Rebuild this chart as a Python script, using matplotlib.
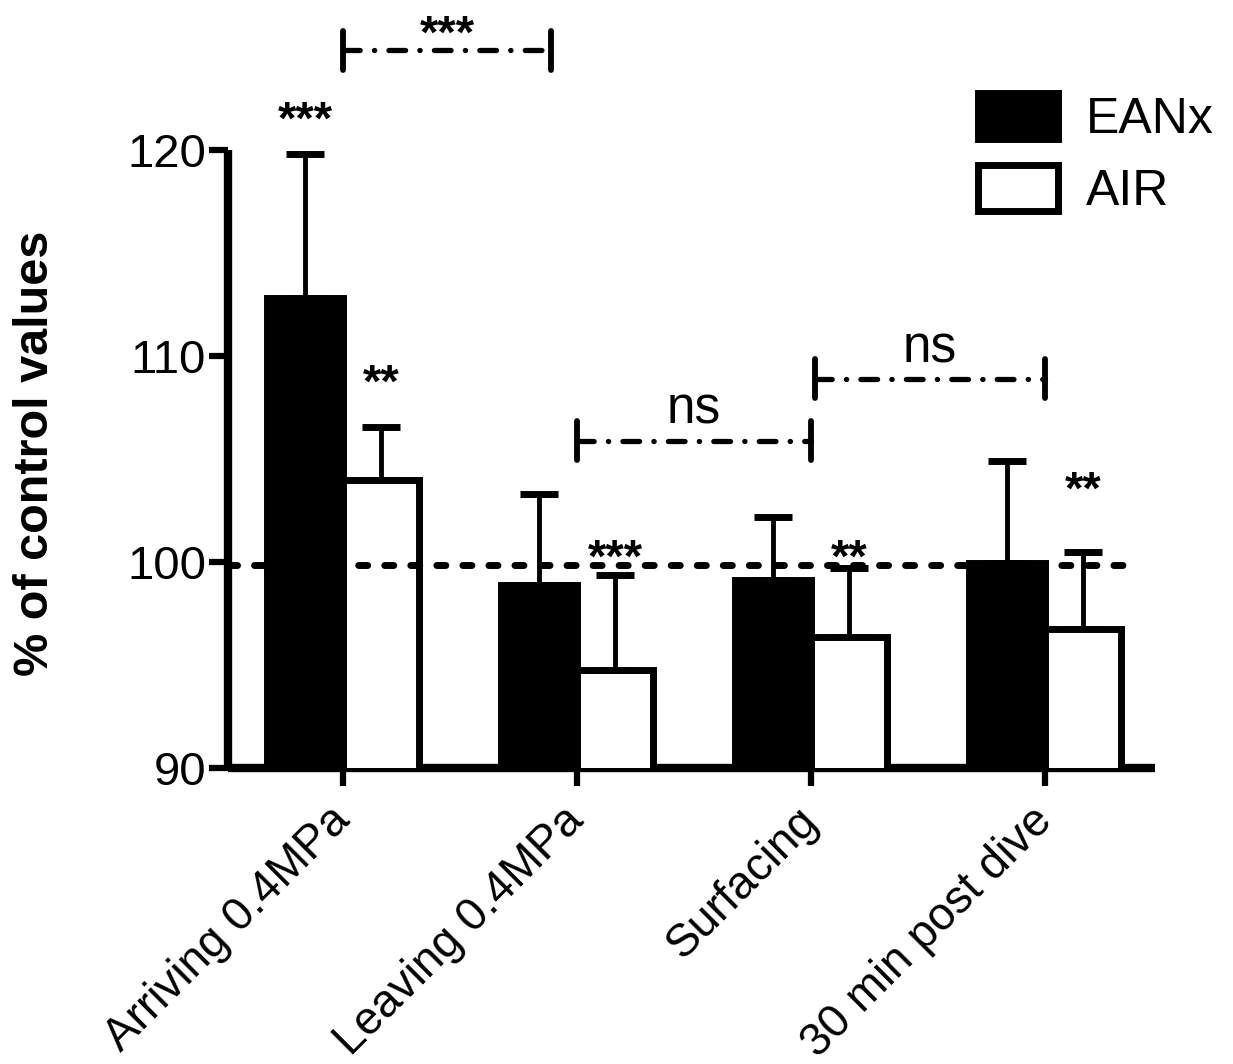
import matplotlib

matplotlib.use("Agg")

import matplotlib.pyplot as plt
import numpy as np

categories = ["Arriving 0.4MPa", "Leaving 0.4MPa", "Surfacing", "30 min post dive"]
eanx_mean = [112.8, 98.9, 99.15, 99.95]
eanx_err = [7.0, 4.4, 3.05, 4.95]
air_mean = [104.0, 94.75, 96.35, 96.75]
air_err = [2.55, 4.65, 3.35, 3.75]
control_level = 99.85

# significance vs control (label, baseline y)
eanx_sig = ["***", "", "", ""]
eanx_sig_y = [120.8, 0, 0, 0]
air_sig = ["**", "***", "**", "**"]
air_sig_y = [108.05, 99.55, 99.55, 102.85]

# between-timepoint comparisons
bracket_x0 = [0.0, 1.0, 2.015]
bracket_x1 = [0.89, 2.0, 3.0]
bracket_y = [124.85, 105.9, 108.9]
bracket_labels = ["***", "ns", "ns"]

plt.rcParams["font.family"] = ["Liberation Sans", "DejaVu Sans"]

fig = plt.figure(figsize=(12.33, 10.64), dpi=100)
ax = fig.add_axes([0.185, 0.278, 0.752, 0.581])

x = np.arange(len(categories))
width = 0.325
edge_lw = 5.0

ax.bar(x - width / 2, eanx_mean, width, color="black", edgecolor="black",
       linewidth=edge_lw, label="EANx", zorder=3)
ax.bar(x + width / 2, air_mean, width, color="white", edgecolor="black",
       linewidth=edge_lw, label="AIR", zorder=3)

for xs, means, errs in [(x - width / 2, eanx_mean, eanx_err), (x + width / 2, air_mean, air_err)]:
    ax.errorbar(xs, means, yerr=[np.zeros(len(errs)), errs], fmt="none", ecolor="black",
                elinewidth=3.5, capsize=14, capthick=5, zorder=2)

# control reference line
ax.plot([-0.49, 3.36], [control_level, control_level], color="black", linewidth=5,
        linestyle=(0, (1.3, 2.45)), dash_capstyle="round", zorder=5, clip_on=False)

star_kw = dict(ha="center", va="baseline", fontsize=34, fontweight="bold", zorder=6)
for xi, lab, yv in zip(x, eanx_sig, eanx_sig_y):
    if lab:
        ax.text(xi - width / 2, yv, lab, clip_on=False, **star_kw)
for xi, lab, yv in zip(x, air_sig, air_sig_y):
    if lab:
        ax.text(xi + width / 2, yv, lab, clip_on=False, **star_kw)

label_offset = {"***": 1.5, "ns": 12}
for x0, x1, yb, lab in zip(bracket_x0, bracket_x1, bracket_y, bracket_labels):
    ax.plot([x0, x1], [yb, yb], color="black", linewidth=3.8,
            linestyle=(0, (3.16, 2.7, 0.05, 2.7)), dash_capstyle="round", clip_on=False)
    for xe in (x0, x1):
        ax.plot([xe, xe], [yb - 0.95, yb + 0.95], color="black", linewidth=4.2,
                solid_capstyle="round", clip_on=False)
    if lab == "ns":
        ax.annotate(lab, ((x0 + x1) / 2, yb), xytext=(0, label_offset[lab]),
                    textcoords="offset points", ha="center", va="baseline", fontsize=37,
                    annotation_clip=False)
    else:
        ax.annotate(lab, ((x0 + x1) / 2, yb), xytext=(0, label_offset[lab]),
                    textcoords="offset points", ha="center", va="baseline", fontsize=34,
                    fontweight="bold", annotation_clip=False)

ax.set_xlim(-0.491, 3.47)
ax.set_ylim(90, 120)
ax.set_yticks([90, 100, 110, 120])
ax.set_xticks(x)
ax.set_xticklabels(categories, rotation=45, ha="right", va="center", rotation_mode="anchor")

for side in ("top", "right"):
    ax.spines[side].set_visible(False)
for side in ("left", "bottom"):
    ax.spines[side].set_linewidth(6)
    ax.spines[side].set_capstyle("butt")

ax.tick_params(axis="y", length=14, width=4.5, pad=2, labelsize=34)
ax.tick_params(axis="x", length=13, width=4.5, pad=20, labelsize=33)

ax.set_ylabel("% of control values", fontsize=35, fontweight="bold")
ax.yaxis.set_label_coords(-0.183, 0.51)

ax.legend(loc="upper left", bbox_to_anchor=(0.793, 0.9126), bbox_transform=fig.transFigure,
          frameon=False, fontsize=36, handlelength=1.6, handleheight=1.04,
          handletextpad=0.56, labelspacing=0.44, borderpad=0, borderaxespad=0)

fig.savefig("out.png", dpi=100, facecolor="white")
